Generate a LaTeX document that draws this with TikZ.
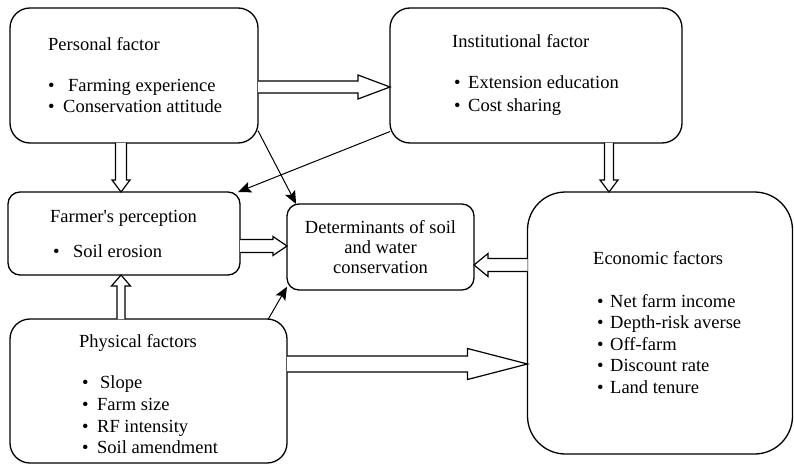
\documentclass[tikz,border=0pt]{standalone}
\usepackage{fontspec}
\setmainfont{Liberation Serif}
\newfontfamily\plainserif{Liberation Serif}
\usetikzlibrary{calc,arrows.meta}
\newcommand\BlkArrow[5]{%
  \coordinate (bkH) at ($(#2)!#5!(#1)$);
  \draw[blockarr] ($(#1)!#3!90:(#2)$) -- ($(bkH)!#3!90:(#2)$) -- ($(bkH)!#4!90:(#2)$) -- (#2) -- ($(bkH)!#4!-90:(#2)$) -- ($(bkH)!#3!-90:(#2)$) -- ($(#1)!#3!-90:(#2)$);
}
\tikzset{
  box/.style={draw, line width=1.3pt, inner sep=0pt, outer sep=0pt, fill=white},
  txt/.style={inner sep=0pt, anchor=base west, font=\fontsize{18.5}{22}\selectfont},
  blockarr/.style={draw, line width=1.2pt, fill=white, line join=miter},
  thinarr/.style={line width=1pt, -{Stealth[length=13pt,width=11pt,inset=2.5pt]}}
}
\begin{document}
\begin{tikzpicture}[x=1pt,y=-1pt]
\useasboundingbox (0,0) rectangle (794,465);
% boxes
\node[box, rounded corners=20pt, minimum width=248pt, minimum height=135pt] (personal) at (134,75.5) {};
\node[box, rounded corners=20pt, minimum width=292pt, minimum height=135pt] (inst) at (536,75.5) {};
\node[box, rounded corners=12pt, minimum width=232pt, minimum height=83pt] (farmer) at (124,233.5) {};
\node[box, rounded corners=12pt, minimum width=187pt, minimum height=86pt] (det) at (380.5,247) {};
\node[box, rounded corners=38pt, minimum width=265pt, minimum height=262pt] (econ) at (660,323) {};
\node[box, rounded corners=20pt, minimum width=277pt, minimum height=144pt] (phys) at (148.5,391) {};

% texts: personal
\node[txt] (p0) at (48,51) {Personal factor};
\node[txt] (p1b) at (48,92) {•};
\node[txt] (p1) at (68,92) {Farming experience};
\node[txt] (p2b) at (48,113) {•};
\node[txt] (p2) at (63,113) {Conservation attitude};
% institutional
\node[txt] (i0) at (452,48) {Institutional factor};
\node[txt] (i1b) at (454,89) {•};
\node[txt] (i1) at (468,89) {Extension education};
\node[txt] (i2b) at (454,112) {•};
\node[txt] (i2) at (468,112) {Cost sharing};
% farmer
\node[txt] (f0) at (50,222) {\plainserif Farmer's perception};
\node[txt] (f1b) at (53,257) {•};
\node[txt] (f1) at (73,257) {Soil erosion};
% determinants
\node[inner sep=0pt, align=center, font=\fontsize{18.5}{20}\selectfont] (dtext) at (det.center) {Determinants of soil\\and water\\conservation};
% economic
\node[txt] (e0) at (593,264) {Economic factors};
\node[txt] (e1b) at (597,307) {•};
\node[txt] (e1) at (610,307) {Net farm income};
\node[txt] (e2b) at (597,328.5) {•};
\node[txt] (e2) at (610,328.5) {Depth-risk averse};
\node[txt] (e3b) at (597,350) {•};
\node[txt] (e3) at (610,350) {Off-farm};
\node[txt] (e4b) at (597,371.5) {•};
\node[txt] (e4) at (610,371.5) {Discount rate};
\node[txt] (e5b) at (597,393) {•};
\node[txt] (e5) at (610,393) {Land tenure};
% physical
\node[txt] (h0) at (79,347) {Physical factors};
\node[txt] (h1b) at (82,388) {•};
\node[txt] (h1) at (100,388) {Slope};
\node[txt] (h2b) at (82,410) {•};
\node[txt] (h2) at (97,410) {Farm size};
\node[txt] (h3b) at (82,432) {•};
\node[txt] (h3) at (97,432) {RF intensity};
\node[txt] (h4b) at (82,453) {•};
\node[txt] (h4) at (97,453) {Soil amendment};

% block arrow endpoints
\coordinate (a1s) at ($(personal.east)+(0,11.5)$);
\coordinate (a1e) at ($(inst.west)+(0,11.5)$);
\coordinate (a2s) at ($(personal.south)+(-13,0)$);
\coordinate (a2e) at ($(farmer.north)+(-3,0)$);
\coordinate (a3s) at ($(inst.south)+(73,0)$);
\coordinate (a3e) at ($(econ.north)+(-51,0)$);
\coordinate (a4s) at ($(farmer.east)+(0,12.5)$);
\coordinate (a4e) at ($(det.west)+(0,-1)$);
\coordinate (a5s) at ($(econ.west)+(0,-58)$);
\coordinate (a5e) at ($(det.east)+(0,18)$);
\coordinate (a6s) at ($(phys.north)+(-27.5,0)$);
\coordinate (a6e) at ($(farmer.south)+(-3,0)$);
\coordinate (a7s) at ($(phys.east)+(0,-27)$);
\coordinate (a7e) at ($(econ.west)+(0,41)$);

\BlkArrow{a1s}{a1e}{6pt}{12pt}{32pt}
\BlkArrow{a2s}{a2e}{5.5pt}{9pt}{12pt}
\BlkArrow{a3s}{a3e}{4.5pt}{9pt}{12pt}
\BlkArrow{a4s}{a4e}{6.5pt}{9.5pt}{14pt}
\BlkArrow{a5s}{a5e}{6.5pt}{11.5pt}{14pt}
\BlkArrow{a6s}{a6e}{4pt}{9.5pt}{11pt}
\BlkArrow{a7s}{a7e}{8pt}{15.5pt}{60pt}

% thin arrows
\draw[thinarr] (personal.-24.5) -- (det.153.8);
\draw[thinarr] (inst.201.4) -- (farmer.20);
\draw[thinarr] (phys.31.3) -- (det.203.2);
\end{tikzpicture}
\end{document}
